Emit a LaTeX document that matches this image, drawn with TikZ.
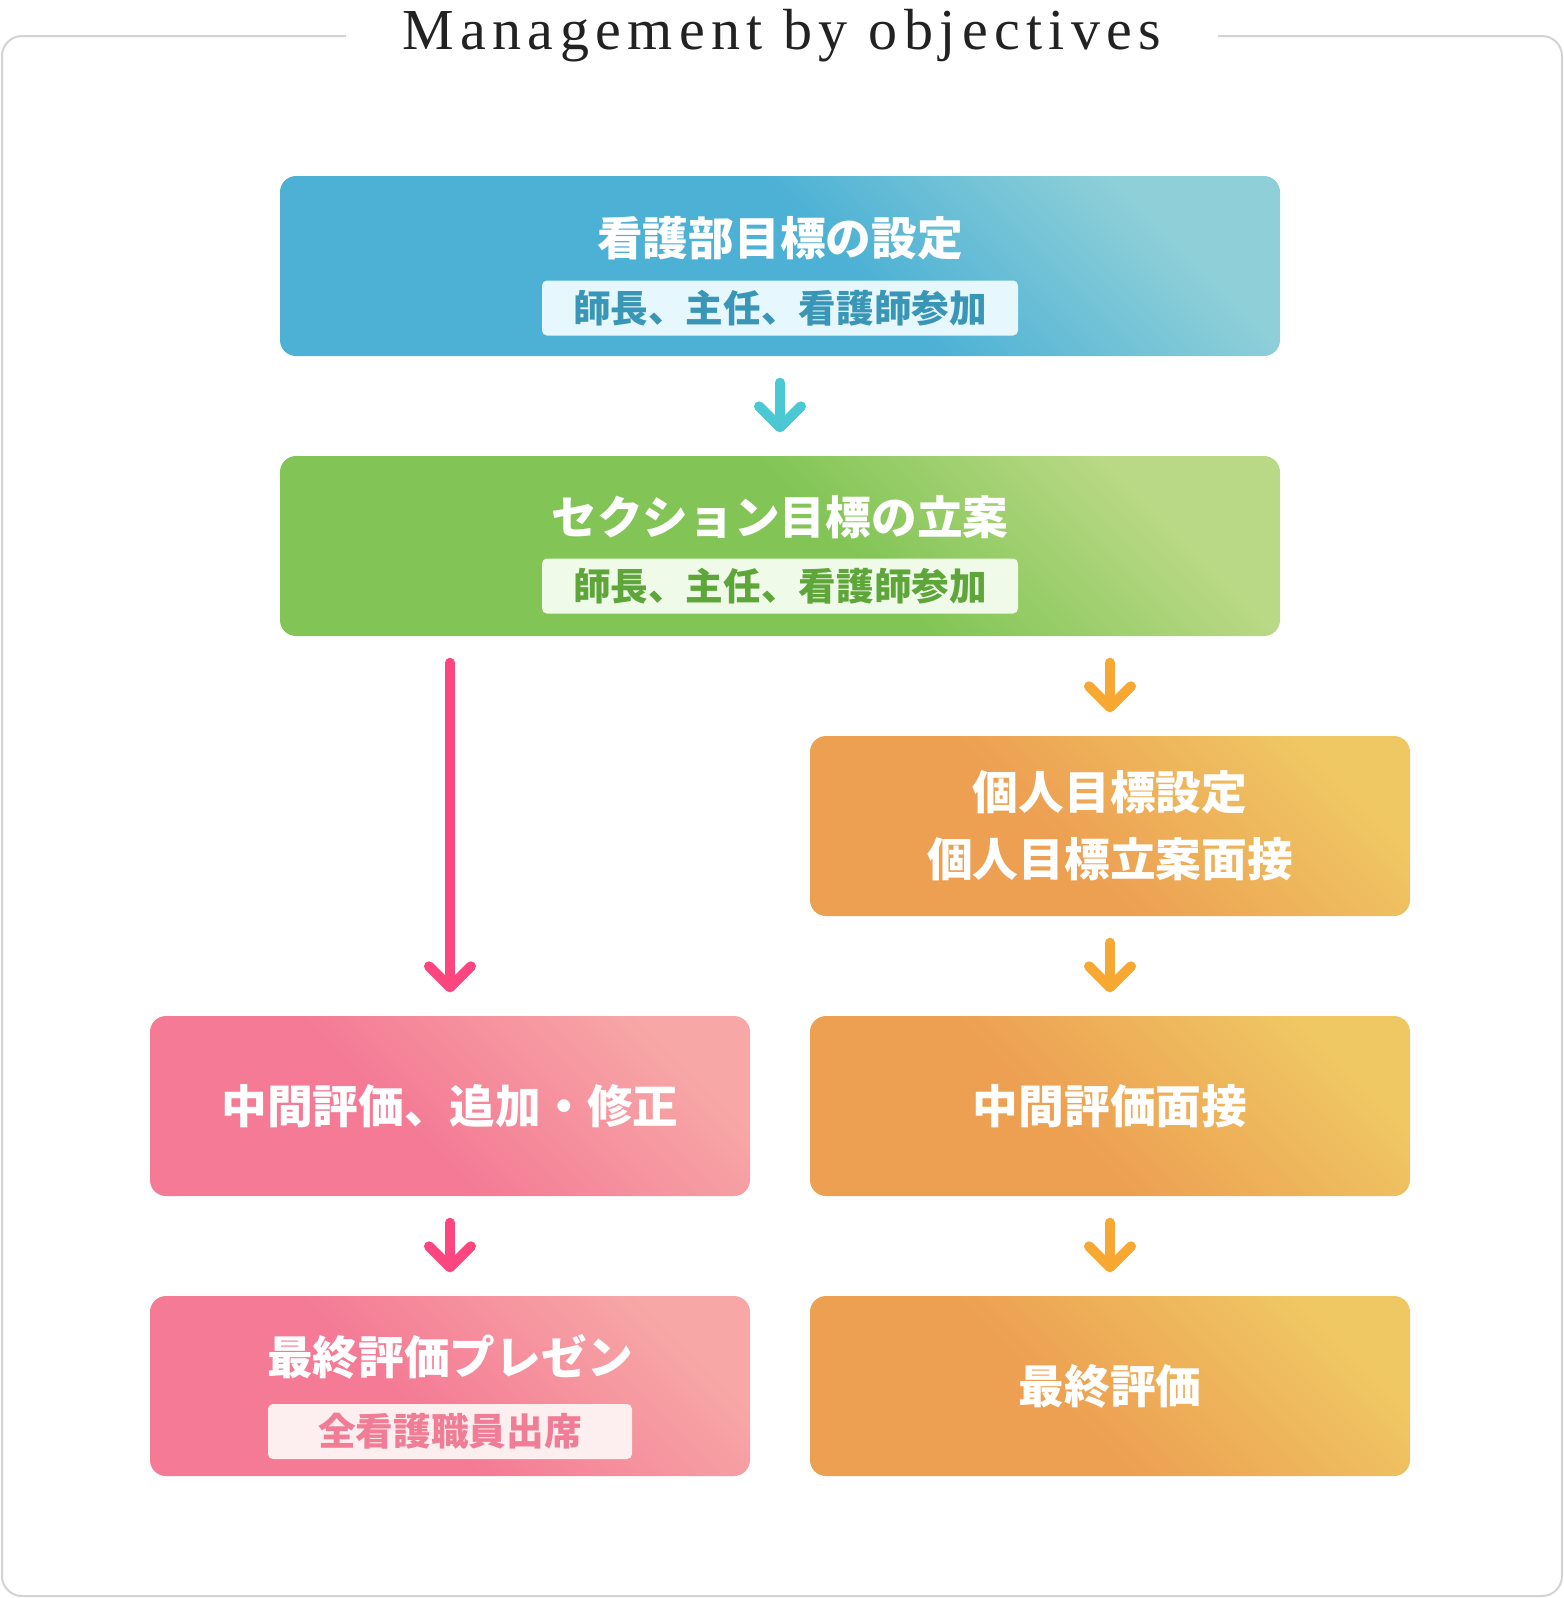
\documentclass[tikz,border=0pt]{standalone}
\usepackage{fontspec}
\usepackage{xcolor}
\usepackage{tikz}
\usetikzlibrary{arrows.meta,positioning}
\newfontfamily\jpfont{Noto Sans CJK JP}
\newfontfamily\heading{Liberation Serif}[LetterSpace=11]
\definecolor{framegray}{HTML}{D3D3D3}
\definecolor{titleink}{HTML}{222222}
\definecolor{bluemn}{HTML}{4CB1D5}
\definecolor{bluelt}{HTML}{8ECFD8}
\definecolor{bluepill}{HTML}{E6F8FD}
\definecolor{bluetxt}{HTML}{3A96B7}
\definecolor{greenmn}{HTML}{82C556}
\definecolor{greenlt}{HTML}{BAD986}
\definecolor{greenpill}{HTML}{EFFBE8}
\definecolor{greentxt}{HTML}{5EA639}
\definecolor{pinkmn}{HTML}{F47A95}
\definecolor{pinklt}{HTML}{F7A7A6}
\definecolor{pinkpill}{HTML}{FDEEEF}
\definecolor{pinktxt}{HTML}{F07C95}
\definecolor{orangemn}{HTML}{EDA052}
\definecolor{orangelt}{HTML}{EFC763}
\definecolor{cyanarr}{HTML}{4AC8D4}
\definecolor{pinkarr}{HTML}{FB4680}
\definecolor{orangearr}{HTML}{F6A832}
% light corner top right, flat colour elsewhere
\pgfdeclareverticalshading{bluegrad}{100bp}{color(0bp)=(bluemn); color(54bp)=(bluemn); color(75bp)=(bluelt); color(100bp)=(bluelt)}
\pgfdeclareverticalshading{greengrad}{100bp}{color(0bp)=(greenmn); color(54bp)=(greenmn); color(75bp)=(greenlt); color(100bp)=(greenlt)}
\pgfdeclareverticalshading{pinkgrad}{100bp}{color(0bp)=(pinkmn); color(44bp)=(pinkmn); color(75bp)=(pinklt); color(100bp)=(pinklt)}
\pgfdeclareverticalshading{orangegrad}{100bp}{color(0bp)=(orangemn); color(44bp)=(orangemn); color(75bp)=(orangelt); color(100bp)=(orangelt)}

\begin{document}
\begin{tikzpicture}[>={Straight Barb[length=2.1mm,width=4.2mm,round]},
  box/.style={rounded corners=0.16cm,minimum height=1.8cm,inner sep=0pt},
  wide/.style={box,minimum width=10cm,shading=#1,shading angle=-45},
  half/.style={box,minimum width=6cm,shading=#1,shading angle=-45},
  head/.style={text=white,font=\jpfont\bfseries\fontsize{13}{19}\selectfont,align=center},
  pill/.style={rounded corners=0.05cm,minimum height=0.55cm,inner sep=0pt,font=\jpfont\bfseries\fontsize{10.7}{12}\selectfont},
  flow/.style={->,line width=0.1cm,line cap=round,shorten <=0.26cm,shorten >=0.23cm}]
\useasboundingbox (0,0) rectangle (15.64,-15.98);
\coordinate (ftop) at (0,-0.36);
\node[anchor=base,inner xsep=0.56cm,text=titleink,font=\heading\fontsize{16.5}{20}\selectfont] (ttl) at (7.82,-0.49) {Management by objectives};
\draw[framegray,line width=0.02cm,rounded corners=0.2cm] (ttl.west |- ftop) -- (0.02,-0.36) -- (0.02,-15.96) -- (15.62,-15.96) -- (15.62,-0.36) -- (ttl.east |- ftop);

% left column: whole ward, right column: each nurse
\node[wide=bluegrad] (dept) at (7.80,-2.66) {};
\node[head] (deptt) at ([yshift=0.275cm]dept.center) {看護部目標の設定};
\node[pill,fill=bluepill,text=bluetxt,minimum width=4.76cm] (deptp) at ([yshift=-0.42cm]dept.center) {師長、主任、看護師参加};

\node[wide=greengrad] (sect) at (7.80,-5.46) {};
\node[head] (sectt) at ([yshift=0.285cm]sect.center) {セクション目標の立案};
\node[pill,fill=greenpill,text=greentxt,minimum width=4.76cm] (sectp) at ([yshift=-0.40cm]sect.center) {師長、主任、看護師参加};

\node[half=orangegrad] (self) at (11.10,-8.26) {};
\node[head] (selft) at (self.center) {個人目標設定\\個人目標立案面接};

\node[half=pinkgrad] (midl) at (4.50,-11.06) {};
\node[head] (midlt) at (midl.center) {中間評価、追加・修正};
\node[half=orangegrad] (midr) at (11.10,-11.06) {};
\node[head] (midrt) at (midr.center) {中間評価面接};

\node[half=pinkgrad] (finl) at (4.50,-13.86) {};
\node[head] (finlt) at ([yshift=0.29cm]finl.center) {最終評価プレゼン};
\node[pill,fill=pinkpill,text=pinktxt,minimum width=3.64cm] (finlp) at ([yshift=-0.455cm]finl.center) {全看護職員出席};
\node[half=orangegrad] (finr) at (11.10,-13.86) {};
\node[head] (finrt) at (finr.center) {最終評価};

\draw[flow,cyanarr] (dept) -- (sect);
\draw[flow,pinkarr] (sect.south -| midl) -- (midl);
\draw[flow,orangearr] (sect.south -| self) -- (self);
\draw[flow,orangearr] (self) -- (midr);
\draw[flow,pinkarr] (midl) -- (finl);
\draw[flow,orangearr] (midr) -- (finr);
\end{tikzpicture}
\end{document}
